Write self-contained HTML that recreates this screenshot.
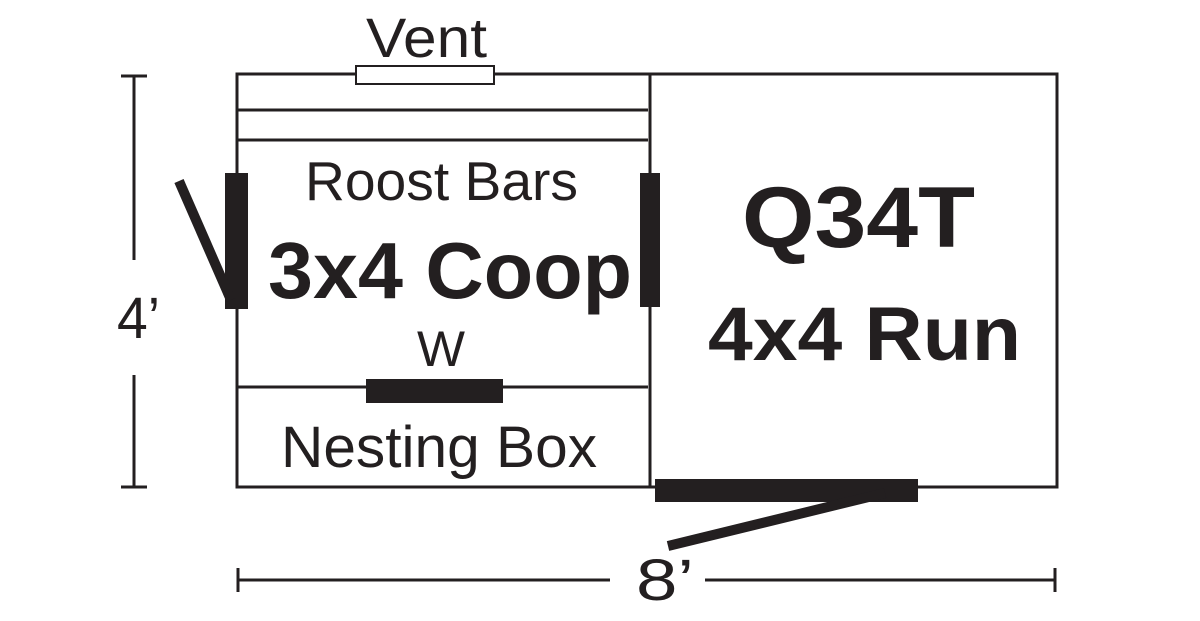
<!DOCTYPE html>
<html><head><style>html,body{margin:0;padding:0;background:#fff;width:1200px;height:621px;overflow:hidden}</style></head>
<body>
<svg width="1200" height="621" viewBox="0 0 1200 621" xmlns="http://www.w3.org/2000/svg">
<g stroke="#231f20" fill="none" stroke-width="3">
<rect x="237" y="74" width="820" height="413"/>
<line x1="650" y1="74" x2="650" y2="487"/>
<line x1="237" y1="110" x2="648" y2="110"/>
<line x1="237" y1="140" x2="648" y2="140"/>
<line x1="237" y1="387" x2="648" y2="387"/>
<rect x="356" y="66" width="138" height="18" stroke-width="2" fill="#fff"/>
<line x1="134" y1="76" x2="134" y2="260"/>
<line x1="134" y1="375" x2="134" y2="487"/>
<line x1="121" y1="76" x2="147" y2="76"/>
<line x1="121" y1="487" x2="147" y2="487"/>
<line x1="238" y1="580" x2="610" y2="580"/>
<line x1="705" y1="580" x2="1055" y2="580"/>
<line x1="238" y1="568" x2="238" y2="592"/>
<line x1="1055" y1="568" x2="1055" y2="592"/>
</g>
<g fill="#231f20">
<rect x="225" y="173" width="23" height="136"/>
<rect x="640" y="173" width="20" height="134"/>
<rect x="366" y="379" width="137" height="24"/>
<rect x="655" y="479" width="263" height="23"/>
</g>
<g stroke="#231f20" stroke-width="10">
<line x1="179" y1="181" x2="231" y2="300"/>
<line x1="668" y1="546" x2="885" y2="493"/>
</g>
<g font-family="Liberation Sans, sans-serif" fill="#231f20" lengthAdjust="spacingAndGlyphs">
<text x="366" y="57" font-size="56" textLength="121" lengthAdjust="spacingAndGlyphs">Vent</text>
<text x="305" y="200" font-size="55" textLength="273" lengthAdjust="spacingAndGlyphs">Roost Bars</text>
<text x="268" y="298" font-size="80" font-weight="bold" textLength="364" lengthAdjust="spacingAndGlyphs">3x4 Coop</text>
<text x="417" y="366" font-size="50" textLength="48" lengthAdjust="spacingAndGlyphs">W</text>
<text x="281" y="467" font-size="58" textLength="316" lengthAdjust="spacingAndGlyphs">Nesting Box</text>
<text x="742" y="247" font-size="86" font-weight="bold" textLength="233" lengthAdjust="spacingAndGlyphs">Q34T</text>
<text x="708" y="360" font-size="76" font-weight="bold" textLength="313" lengthAdjust="spacingAndGlyphs">4x4 Run</text>
<text x="117" y="338" font-size="58" textLength="43" lengthAdjust="spacingAndGlyphs">4’</text>
<text x="636" y="600" font-size="58" textLength="58" lengthAdjust="spacingAndGlyphs">8’</text>
</g>
</svg>
</body></html>
